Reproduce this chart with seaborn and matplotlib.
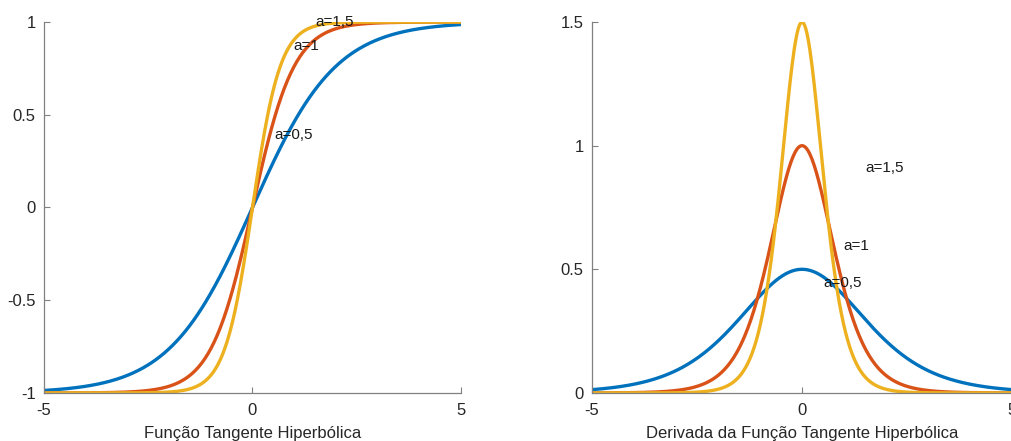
import numpy as np
import pandas as pd
import seaborn as sns
from matplotlib import pyplot as plt

# slopes of the three curves and their labels
A_VALUES = [0.5, 1.0, 1.5]
A_LABELS = ["a=0,5", "a=1", "a=1,5"]
X_MIN, X_MAX = -5, 5
N_POINTS = 400

# label positions (data coords)
LEFT_LABEL_POS = [(0.52, 0.39), (0.97, 0.87), (1.5, 1.0)]
RIGHT_LABEL_POS = [(0.5, 0.445), (0.98, 0.595), (1.5, 0.91)]

XTICKS = [-5, 0, 5]
LEFT_YTICKS = [-1, -0.5, 0, 0.5, 1]
RIGHT_YTICKS = [0, 0.5, 1, 1.5]

MATLAB_COLORS = ["#0072BD", "#D95319", "#EDB120"]

x = np.linspace(X_MIN, X_MAX, N_POINTS)
frames = []
for a, lab in zip(A_VALUES, A_LABELS):
    frames.append(pd.DataFrame({
        "x": x,
        "tanh": np.tanh(a * x),
        "dtanh": a / np.cosh(a * x) ** 2,
        "curve": lab,
    }))
data = pd.concat(frames, ignore_index=True)

sns.set_style("white")
plt.rcParams["font.family"] = ["Liberation Sans", "DejaVu Sans"]

fig = plt.figure(figsize=(10.12, 4.41), dpi=100)
ax1 = fig.add_axes([0.0435, 0.109, 0.412, 0.841])
ax2 = fig.add_axes([0.585, 0.109, 0.415, 0.841])

for ax, col, ylim, yticks, label_pos, xlabel in [
    (ax1, "tanh", (-1, 1), LEFT_YTICKS, LEFT_LABEL_POS, "Função Tangente Hiperbólica"),
    (ax2, "dtanh", (0, 1.5), RIGHT_YTICKS, RIGHT_LABEL_POS,
     "Derivada da Função Tangente Hiperbólica"),
]:
    sns.lineplot(data=data, x="x", y=col, hue="curve", hue_order=A_LABELS,
                 palette=MATLAB_COLORS, linewidth=2.4, legend=False, ax=ax)
    ax.set_xlim(X_MIN, X_MAX)
    ax.set_ylim(*ylim)
    ax.set_xticks(XTICKS)
    ax.set_yticks(yticks)
    ax.set_xticklabels([f"{t:g}" for t in XTICKS])
    ax.set_yticklabels([f"{t:g}" for t in yticks])
    ax.set_xlabel(xlabel, fontsize=12, color="#262626", labelpad=6)
    ax.set_ylabel("")
    ax.tick_params(direction="in", length=4, width=0.8, colors="#808080",
                   labelcolor="#262626", labelsize=12, pad=7,
                   bottom=True, left=True)
    ax.tick_params(axis="y", pad=6)
    for side in ["top", "right"]:
        ax.spines[side].set_visible(False)
    for side in ["left", "bottom"]:
        ax.spines[side].set_color("#808080")
        ax.spines[side].set_linewidth(0.9)
    for lab, (tx, ty) in zip(A_LABELS, label_pos):
        ax.text(tx, ty, lab, ha="left", va="center", fontsize=11, color="#1a1a1a")
    ax.patch.set_alpha(0)

fig.savefig("out.png", dpi=100)
